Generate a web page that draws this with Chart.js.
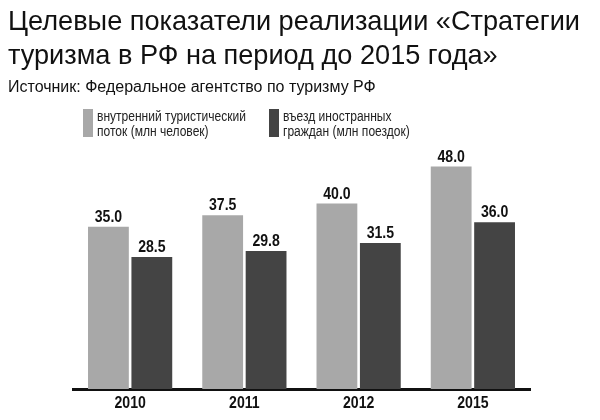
<!DOCTYPE html>
<html><head><meta charset="utf-8">
<script src="https://cdn.jsdelivr.net/npm/chart.js@4"></script>
<style>html,body{margin:0;padding:0;background:#fff}#wrap{width:600px;height:420px}</style>
</head><body><div id="wrap"><canvas id="c" width="600" height="420"></canvas></div>
<script>
const titleLines = ['Целевые показатели реализации «Стратегии', 'туризма в РФ на период до 2015 года»'];
const sourceText = 'Источник: Федеральное агентство по туризму РФ';
const categories = ['2010', '2011', '2012', '2015'];
const domestic = [35.0, 37.5, 40.0, 48.0];
const inbound = [28.5, 29.8, 31.5, 36.0];
const seriesLabels = [['внутренний туристический', 'поток (млн человек)'], ['въезд иностранных', 'граждан (млн поездок)']];
const seriesColors = ['#a8a8a8', '#444444'];

const REG = '"Liberation Sans", Arial, sans-serif';

function drawText(ctx, text, x, y, font, sx, align) {
  ctx.save();
  ctx.font = font;
  ctx.textAlign = align || 'left';
  ctx.translate(x, y);
  ctx.scale(sx, 1);
  ctx.fillText(text, 0, 0);
  ctx.restore();
}

const headerPlugin = {
  id: 'header',
  afterDraw(chart) {
    const ctx = chart.ctx;
    ctx.save();
    ctx.fillStyle = '#111';
    ctx.textBaseline = 'alphabetic';
    ctx.textAlign = 'left';
    ctx.font = '28px ' + REG;
    const tsx = Math.min(1, 572 / ctx.measureText(titleLines[0]).width);
    drawText(ctx, titleLines[0], 8, 30, '28px ' + REG, tsx);
    drawText(ctx, titleLines[1], 8, 64, '28px ' + REG, tsx);
    ctx.font = '500 16px ' + REG;
    ctx.fillText(sourceText, 8, 92, 370);
    // legend
    const legX = [83, 269];
    chart.data.datasets.forEach((ds, i) => {
      ctx.fillStyle = ds.backgroundColor;
      ctx.fillRect(legX[i], 109, 10, 28);
      ctx.fillStyle = '#222';
      const lines = seriesLabels[i];
      drawText(ctx, lines[0], legX[i] + 14, 121, '14px ' + REG, 0.86);
      drawText(ctx, lines[1], legX[i] + 14, 136, '14px ' + REG, 0.86);
    });
    // value labels
    ctx.fillStyle = '#111';
    chart.data.datasets.forEach((ds, i) => {
      const meta = chart.getDatasetMeta(i);
      meta.data.forEach((bar, j) => {
        drawText(ctx, ds.data[j].toFixed(1), bar.x, bar.y - 5, 'bold 16px ' + REG, 0.88, 'center');
      });
    });
    // category labels
    const xs = chart.scales.x;
    chart.data.labels.forEach((lab, j) => {
      drawText(ctx, lab, xs.getPixelForTick(j), 408, 'bold 16px ' + REG, 0.88, 'center');
    });
    ctx.restore();
  }
};

new Chart(document.getElementById('c'), {
  type: 'bar',
  data: {
    labels: categories,
    datasets: [
      { label: seriesLabels[0].join(' '), data: domestic, backgroundColor: seriesColors[0] },
      { label: seriesLabels[1].join(' '), data: inbound, backgroundColor: seriesColors[1] }
    ]
  },
  options: {
    responsive: false,
    animation: false,
    devicePixelRatio: 1,
    categoryPercentage: 0.76,
    barPercentage: 0.94,
    layout: { padding: { left: 73, right: 70, top: 148, bottom: 31 } },
    plugins: { legend: { display: false }, title: { display: false }, tooltip: { enabled: false } },
    scales: {
      x: {
        grid: { display: false, drawTicks: false },
        border: { display: true, color: '#111', width: 3 },
        ticks: { display: false }
      },
      y: { display: false, min: 0, max: 52 }
    }
  },
  plugins: [headerPlugin]
});
</script></body></html>
